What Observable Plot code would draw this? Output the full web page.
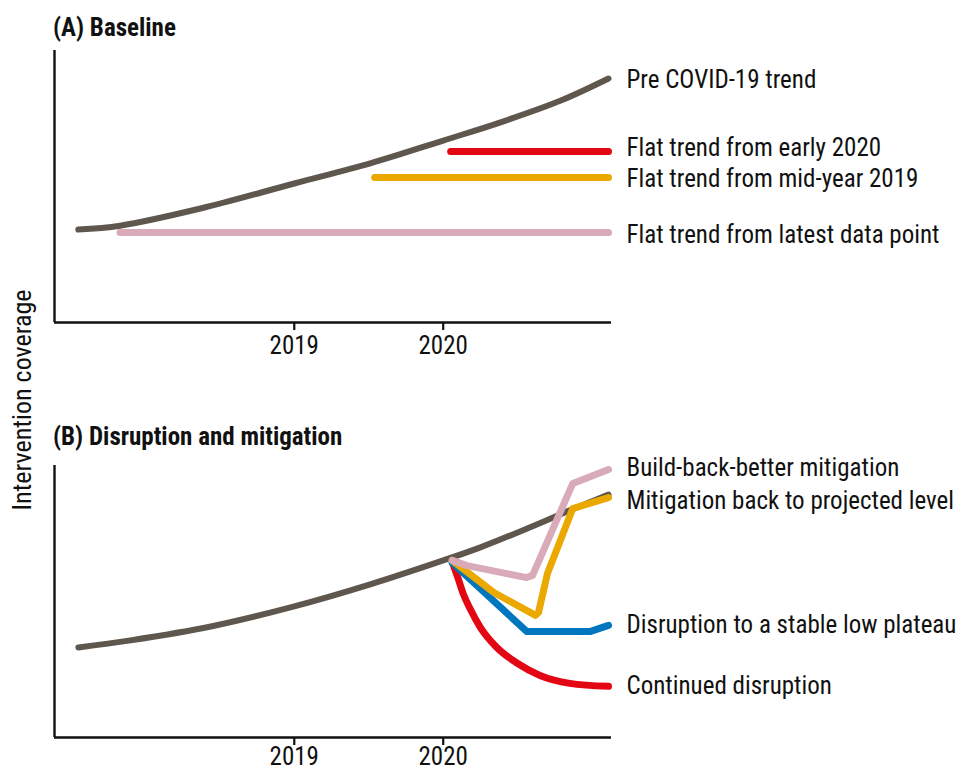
<!DOCTYPE html>
<html>
<head>
<meta charset="utf-8">
<script src="https://cdn.jsdelivr.net/npm/d3@7"></script>
<script src="https://cdn.jsdelivr.net/npm/@observablehq/plot@0.6"></script>
<style>
  body { margin: 0; background: #fff; }
  #wrap { position: relative; width: 956px; height: 774px; font-family: "Liberation Sans Narrow", "Roboto Condensed", "DejaVu Sans Condensed", "Liberation Sans", sans-serif; color: #111; }
  .ptitle { position: absolute; left: 53px; font-weight: bold; font-size: 25px; line-height: 1; }
  #ylab { position: absolute; left: 22px; top: 400px; transform: translate(-50%, -50%) rotate(-90deg); font-size: 26px; white-space: nowrap; }
  .panel { position: absolute; left: 0; }
</style>
</head>
<body>
<div id="wrap">
  <div class="ptitle" style="top:15px">(A) Baseline</div>
  <div class="ptitle" style="top:424px">(B) Disruption and mitigation</div>
  <div id="ylab">Intervention coverage</div>
  <div class="panel" id="pa" style="top:0px"></div>
  <div class="panel" id="pb" style="top:380px"></div>
</div>
<script>
// ---- shared axis ----
const xDomain = [2017.39, 2021.13];
const tickYears = [2019, 2020];
const tickLabels = ["2019", "2020"];

// ---- Panel A: Baseline ----
const preTrendA_year = [2017.55, 2017.83, 2018.37, 2019.0, 2019.51, 2020.0, 2020.38, 2020.79, 2021.11];
const preTrendA_val  = [34.2, 35.6, 41.9, 51.1, 58.5, 66.9, 73.5, 81.6, 89.7];
const flatEarly2020_year = [2020.05, 2021.11];
const flatEarly2020_val  = [62.9, 62.9];
const flatMid2019_year = [2019.54, 2021.11];
const flatMid2019_val  = [53.3, 53.3];
const flatLatest_year = [2017.83, 2021.11];
const flatLatest_val  = [33.1, 33.1];
const labelsA = ["Pre COVID-19 trend", "Flat trend from early 2020", "Flat trend from mid-year 2019", "Flat trend from latest data point"];
const labelsA_val = [89.0, 64.3, 52.6, 32.0];

// ---- Panel B: Disruption and mitigation ----
const preTrendB_year = [2017.55, 2017.90, 2018.44, 2019.0, 2019.51, 2020.0, 2020.25, 2020.58, 2020.85, 2021.11];
const preTrendB_val  = [33.1, 35.7, 40.8, 48.2, 56.3, 65.1, 69.9, 77.2, 83.5, 89.3];
const buildBack_year = [2020.06, 2020.16, 2020.56, 2020.60, 2020.87, 2021.11];
const buildBack_val  = [65.1, 63.2, 58.8, 59.6, 93.4, 98.5];
const mitigation_year = [2020.06, 2020.34, 2020.62, 2020.64, 2020.70, 2020.87, 2021.11];
const mitigation_val  = [65.1, 53.3, 44.9, 46.0, 60.3, 84.2, 88.2];
const plateau_year = [2020.06, 2020.56, 2020.99, 2021.11];
const plateau_val  = [64.3, 39.0, 39.0, 41.2];
const continued_year = [2020.067, 2020.10, 2020.134, 2020.18, 2020.25, 2020.36, 2020.50, 2020.65, 2020.85, 2021.11];
const continued_val  = [63.6, 58.5, 52.9, 47.4, 40.4, 33.1, 27.2, 22.8, 19.9, 18.8];
const labelsB = ["Build-back-better mitigation", "Mitigation back to projected level", "Disruption to a stable low plateau", "Continued disruption"];
const labelsB_val = [98.9, 87.1, 41.2, 18.8];

const colors = { trend: "#5f574e", red: "#e30613", yellow: "#eba900", pink: "#d9abb9", blue: "#0076bf" };
const FONT = '"Liberation Sans Narrow", "Roboto Condensed", "DejaVu Sans Condensed", "Liberation Sans", sans-serif';

const toRows = (years, vals) => years.map((x, i) => ({x, y: vals[i]}));

function line(years, vals, color, w, curve) {
  return Plot.line(toRows(years, vals), {x: "x", y: "y", stroke: color, strokeWidth: w, strokeLinecap: "round", strokeLinejoin: "round", curve: curve || "linear"});
}

function panel({height, marginTop, marginBottom, tickPadding, lines, labels, labelVals}) {
  return Plot.plot({
    width: 956, height, marginLeft: 54, marginRight: 345, marginTop, marginBottom,
    style: {fontFamily: FONT, fontSize: "25px", color: "#111", overflow: "visible"},
    x: {domain: xDomain},
    y: {domain: [0, 100], axis: null},
    marks: [
      Plot.axisX(tickYears, {tickFormat: (d, i) => tickLabels[i], tickSize: 8, tickPadding, strokeWidth: 2.2, stroke: "#111", fill: "#111", fontSize: 25, label: null}),
      ...lines,
      Plot.ruleX([xDomain[0]], {stroke: "#111", strokeWidth: 2.4}),
      Plot.ruleY([0], {stroke: "#111", strokeWidth: 2.4}),
      Plot.text(labels, {x: xDomain[1], y: (d, i) => labelVals[i], text: d => d, textAnchor: "start", dx: 15, fill: "#111", fontSize: 25})
    ]
  });
}

const a = panel({
  height: 380, marginTop: 50, marginBottom: 58, tickPadding: 6,
  lines: [
    line(flatLatest_year, flatLatest_val, colors.pink, 7),
    line(flatMid2019_year, flatMid2019_val, colors.yellow, 7),
    line(flatEarly2020_year, flatEarly2020_val, colors.red, 7),
    line(preTrendA_year, preTrendA_val, colors.trend, 6, "catmull-rom")
  ],
  labels: labelsA, labelVals: labelsA_val
});
document.getElementById("pa").append(a);

const b = panel({
  height: 394, marginTop: 85, marginBottom: 37, tickPadding: 2,
  lines: [
    line(preTrendB_year, preTrendB_val, colors.trend, 6, "catmull-rom"),
    line(continued_year, continued_val, colors.red, 7, "monotone-x"),
    line(plateau_year, plateau_val, colors.blue, 7),
    line(mitigation_year, mitigation_val, colors.yellow, 7),
    line(buildBack_year, buildBack_val, colors.pink, 7)
  ],
  labels: labelsB, labelVals: labelsB_val
});
document.getElementById("pb").append(b);
</script>
</body>
</html>
